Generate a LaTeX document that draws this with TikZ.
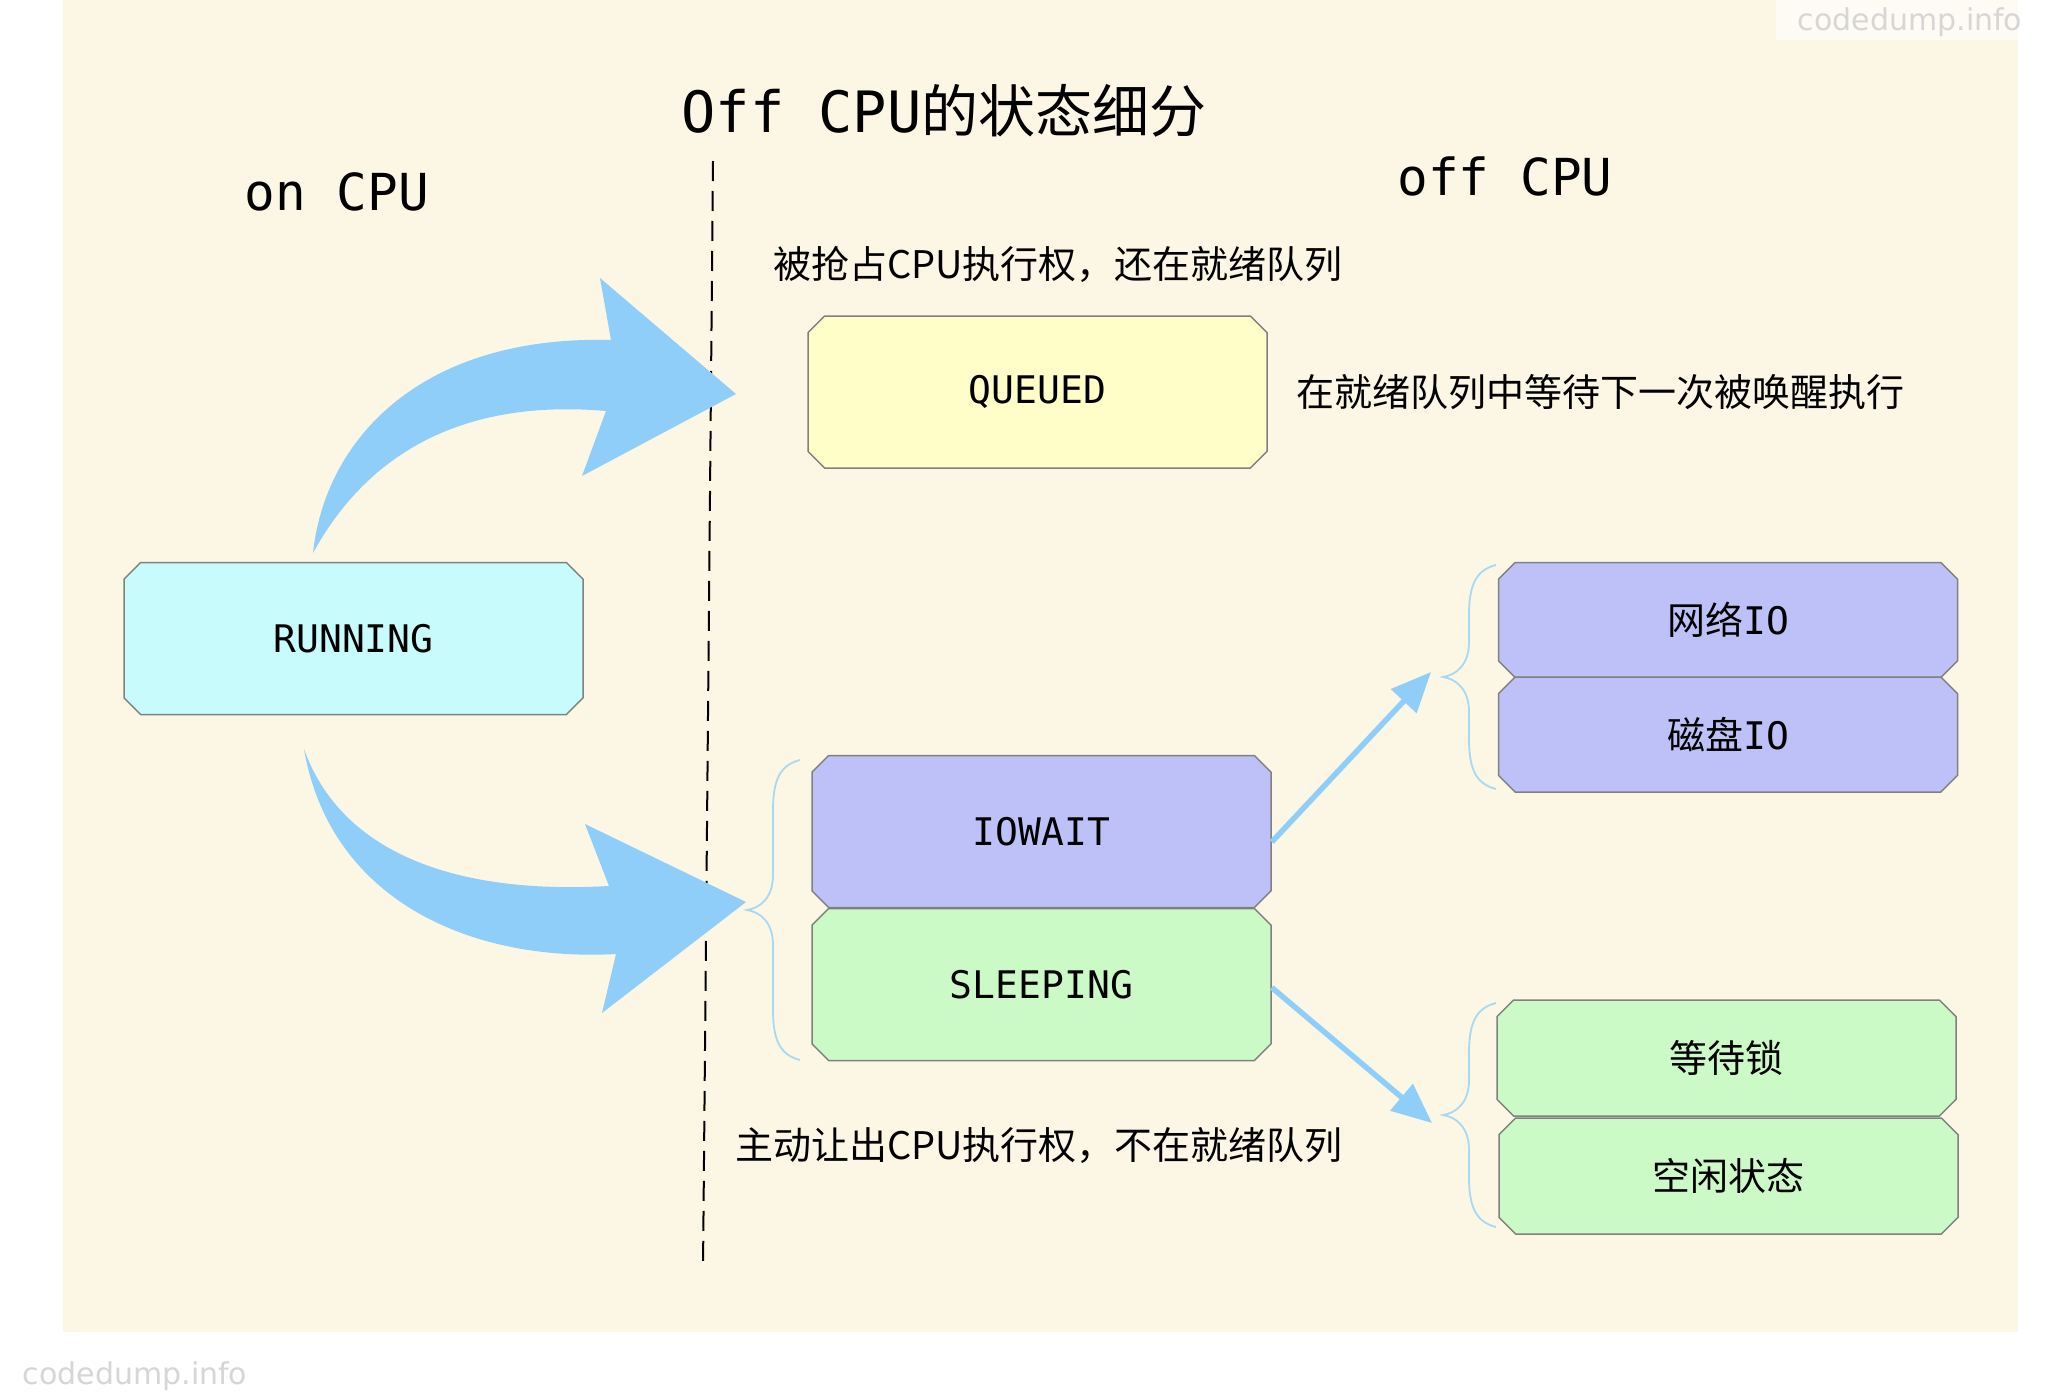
\documentclass[tikz,border=0pt]{standalone}
\usepackage{fontspec}
\newfontfamily\monof{DejaVu Sans Mono}
\newfontfamily\cjkf{Noto Sans CJK SC}
\newfontfamily\wmf{DejaVu Sans}
\usetikzlibrary{shapes.misc,arrows.meta}
\definecolor{bgc}{HTML}{FCF6E4}
\definecolor{runc}{HTML}{C8FCFC}
\definecolor{quec}{HTML}{FFFDC8}
\definecolor{ioc}{HTML}{BEC1F8}
\definecolor{slc}{HTML}{CCFAC6}
\definecolor{arrc}{HTML}{8FCEF8}
\definecolor{bracec}{HTML}{A9D9F2}
\definecolor{boxline}{HTML}{808080}
\definecolor{wmc}{HTML}{D6D6D6}
\newcommand\mybracepath[3]{%
  \draw[bracebrush] (#1,#2) .. controls (#1-20,#2+5) and (#1-27,#2+20) .. (#1-27,#2+50)
    -- (#1-27,{(#2+#3)/2-35}) .. controls (#1-27,{(#2+#3)/2-12}) and (#1-40,{(#2+#3)/2-2}) .. (#1-53,{(#2+#3)/2})
    .. controls (#1-40,{(#2+#3)/2+2}) and (#1-27,{(#2+#3)/2+12}) .. (#1-27,{(#2+#3)/2+35})
    -- (#1-27,#3-50) .. controls (#1-27,#3-20) and (#1-20,#3-5) .. (#1,#3);}
\begin{document}
\begin{tikzpicture}[x=1pt,y=-1pt,
  stbox/.style={chamfered rectangle, chamfered rectangle xsep=8.3pt,
    chamfered rectangle ysep=8.3pt, draw=boxline, line width=1.5pt,
    inner sep=0pt, minimum width=459pt,
    font={\fontsize{38}{42}\selectfont\monof}},
  bigbox/.style={stbox, minimum height=152pt},
  smallbox/.style={stbox, minimum height=115pt},
  desc/.style={font={\fontsize{38}{42}\selectfont\cjkf}, inner sep=0pt},
  head/.style={font={\fontsize{51}{56}\selectfont\monof}, inner sep=0pt},
  thinarrow/.style={draw=arrc, line width=5.5pt, -{Triangle[length=40pt,width=34pt]}},
  bracebrush/.style={draw=bracec, line width=1.8pt},
  wm/.style={font={\fontsize{30}{32}\selectfont\wmf}, text=wmc, inner sep=0pt}]
\useasboundingbox (0,0) rectangle (2048,1394);
\fill[white] (0,0) rectangle (2048,1394);
\fill[bgc] (63,0) rectangle (2018,1332);
\fill[white!60!bgc] (1776,0) rectangle (2018,40);
\node[wm] (wm1) at (1910,22) {codedump.info};
\node[wm] (wm2) at (135,1376) {codedump.info};

% titles
\node[font={\fontsize{57}{62}\selectfont}, inner sep=0pt] (title) at (944,111) {{\monof Off CPU}{\cjkf 的状态细分}};
\node[head] (oncpu) at (337,192) {on CPU};
\node[head] (offcpu) at (1505,176) {off CPU};

% divider
\coordinate (dtop) at (713,161);
\coordinate (dbot) at (703,1270);
\draw[black, line width=2pt, dash pattern=on 20pt off 10pt] (dtop) -- (dbot);

% big curved arrows
\fill[arrc] (313,553) .. controls (325,440) and (420,335) .. (611,340)
  -- (600,278) -- (736,394) -- (582,476) -- (606,411)
  .. controls (480,400) and (375,440) .. (313,553) -- cycle;
\fill[arrc] (304,749) .. controls (340,850) and (450,895) .. (609,886)
  -- (585,824) -- (746,902) -- (602,1013) -- (616,954)
  .. controls (470,962) and (330,900) .. (304,749) -- cycle;

% boxes
\node[bigbox, fill=runc] (run) at (353.5,638.5) {RUNNING};
\node[bigbox, fill=quec] (que) at (1037.5,392) {QUEUED};
\node[bigbox, fill=ioc] (iow) at (1041.5,831.5) {IOWAIT};
\node[bigbox, fill=slc] (slp) at (1041.5,984.5) {SLEEPING};
\node[smallbox, fill=ioc] (net) at (1728,620) {{\cjkf 网络}IO};
\node[smallbox, fill=ioc] (disk) at (1728,734.5) {{\cjkf 磁盘}IO};
\node[smallbox, fill=slc, minimum height=116pt] (lock) at (1726.5,1058) {{\cjkf 等待锁}};
\node[smallbox, fill=slc, minimum height=116pt] (idle) at (1728.5,1176) {{\cjkf 空闲状态}};

% descriptions
\node[desc] (d1) at (1058,264) {被抢占CPU执行权，还在就绪队列};
\node[desc] (d2) at (1600,392) {在就绪队列中等待下一次被唤醒执行};
\node[desc] (d3) at (1039,1146) {主动让出CPU执行权，不在就绪队列};

% braces
\mybracepath{800}{760}{1060}
\mybracepath{1496}{565}{789}
\mybracepath{1496}{1003}{1227}

% thin arrows
\coordinate (t1) at (1431,672);
\coordinate (t2) at (1432,1123);
\draw[thinarrow] ([yshift=-10.5pt]iow.east) -- (t1);
\draw[thinarrow] ([yshift=-3pt]slp.east) -- (t2);
\end{tikzpicture}
\end{document}
